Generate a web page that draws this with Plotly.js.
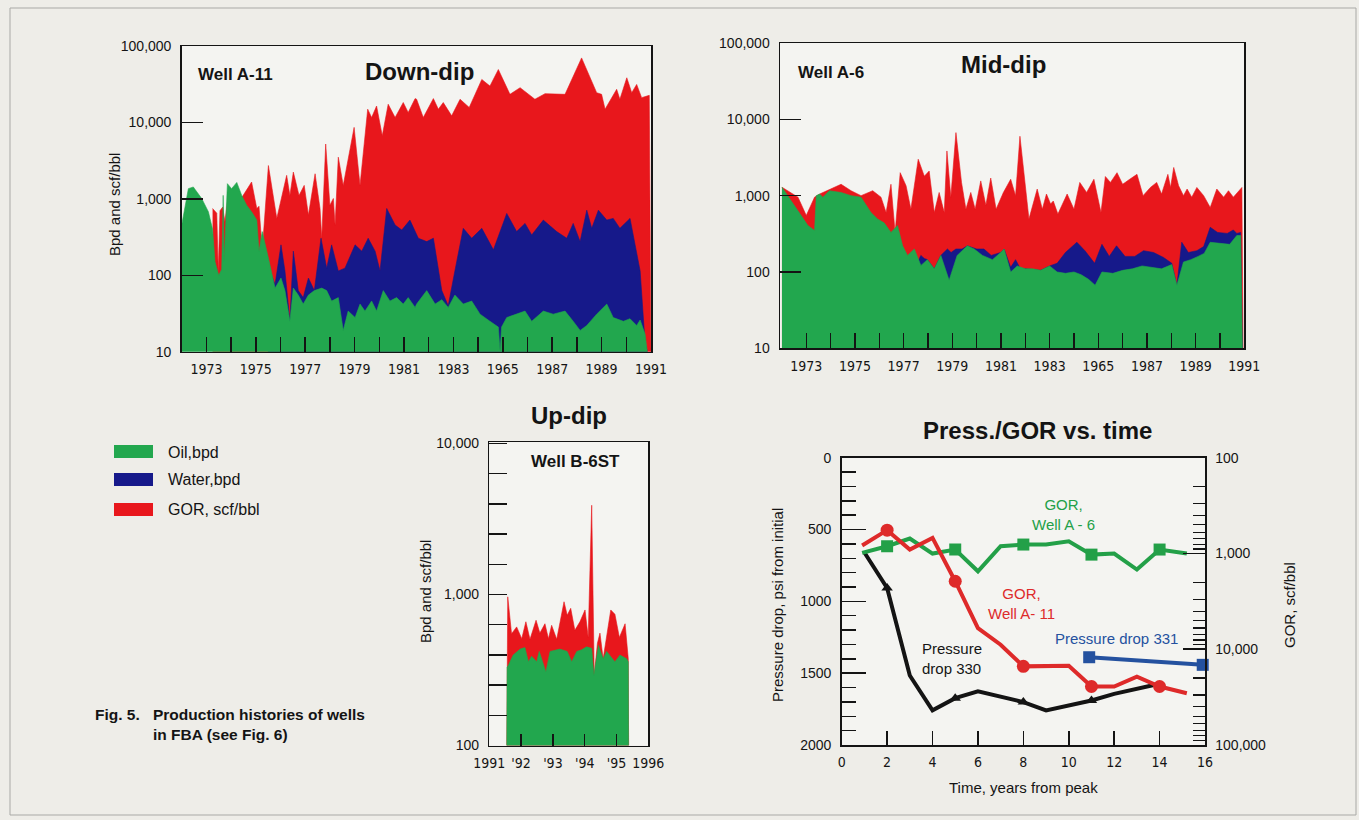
<!DOCTYPE html>
<html>
<head>
<meta charset="utf-8">
<script src="https://cdn.plot.ly/plotly-3.0.1.min.js"></script>
<style>html,body{margin:0;padding:0;background:#eeede8;}#chart{width:1359px;height:820px;}</style>
</head>
<body>
<div id="chart"></div>
<script>
// ---------------- DATA ----------------
// Down-dip, Well A-11
const downGorYears = [1973.25,1973.42,1973.48,1973.55,1973.66,1973.75,1973.85,1974.4,1974.83,1975.04,1975.13,1975.26,1975.51,1975.85,1976.25,1976.38,1976.52,1976.75,1976.96,1977.13,1977.4,1977.6,1977.67,1977.83,1978.0,1978.14,1978.21,1978.34,1978.54,1978.98,1979.22,1979.53,1979.69,1979.89,1980.12,1980.36,1980.64,1980.97,1981.17,1981.45,1981.51,1981.78,1982.19,1982.39,1982.59,1982.93,1983.27,1983.64,1984.15,1984.48,1984.82,1985.29,1985.7,1986.3,1986.71,1987.52,1988.19,1988.8,1989.0,1989.14,1989.61,1989.74,1990.02,1990.22,1990.42,1990.62,1990.93,1991.0];
const downGor = [748,650,110,700,780,500,900,1000,1660,748,800,207,2730,555,2030,1110,2240,1110,1500,613,2130,748,305,5220,826,1010,454,3510,1500,8610,1500,14900,11600,16400,6700,17300,11600,18200,13500,20500,20100,11600,20500,14900,18200,12200,20100,15700,36500,29900,49200,23300,28500,20100,23800,23300,69800,24500,23300,14900,27100,20100,38400,24500,31400,21100,22600,10];
const downWaterYears = [1975.5,1975.57,1975.78,1976.02,1976.18,1976.38,1976.52,1976.72,1976.92,1977.13,1977.37,1977.64,1977.87,1978.07,1978.34,1978.61,1979.02,1979.29,1979.55,1979.83,1980.03,1980.3,1980.64,1980.91,1981.24,1981.58,1981.92,1982.19,1982.53,1982.79,1983.06,1983.4,1983.74,1984.15,1984.62,1985.16,1985.56,1985.9,1986.17,1986.64,1987.18,1987.59,1987.85,1988.13,1988.4,1988.6,1988.87,1989.21,1989.47,1989.74,1990.15,1990.56,1990.76,1990.85];
const downWater = [10,114,76,250,114,25,207,63,51,92,63,305,124,250,114,124,250,207,305,207,114,748,454,391,527,305,276,305,63,40,114,411,305,411,215,644,373,477,337,527,373,305,477,276,711,411,711,527,555,411,555,114,13,10];
const downOilYears = [1972.0,1972.27,1972.47,1972.81,1973.08,1973.25,1973.35,1973.5,1973.62,1973.68,1973.72,1973.85,1974.02,1974.23,1974.43,1974.63,1974.83,1975.04,1975.13,1975.26,1975.51,1975.78,1976.02,1976.18,1976.38,1976.52,1976.72,1976.92,1977.13,1977.37,1977.67,1977.87,1978.07,1978.34,1978.54,1978.74,1979.02,1979.22,1979.42,1979.69,1979.89,1980.16,1980.43,1980.7,1980.97,1981.17,1981.45,1981.51,1981.92,1982.26,1982.53,1982.79,1983.06,1983.4,1983.74,1984.08,1984.48,1984.82,1984.89,1984.95,1985.16,1985.56,1985.9,1986.17,1986.64,1987.04,1987.52,1987.85,1988.13,1988.4,1988.8,1989.21,1989.47,1989.88,1990.15,1990.42,1990.56,1990.76,1990.85];
const downOil = [455,1360,1430,1010,678,400,150,100,120,1110,150,1580,1360,1640,1110,826,678,527,207,373,168,68,92,63,25,68,55,42,55,63,68,63,46,51,19,34,28,42,34,46,34,63,46,51,42,51,38,42,63,42,48,38,55,42,46,31,25,21,10,21,28,31,34,25,34,31,34,25,19,22,31,42,28,25,27,22,26,17,10];

// Mid-dip, Well A-6
const midGorYears = [1972.0,1972.66,1973.0,1973.34,1973.55,1974.43,1974.84,1975.25,1975.73,1976.07,1976.28,1976.48,1976.65,1976.86,1977.1,1977.3,1977.6,1977.85,1978.05,1978.26,1978.46,1978.67,1978.78,1978.94,1979.15,1979.38,1979.56,1979.76,1979.94,1980.17,1980.38,1980.58,1980.8,1981.1,1981.4,1981.6,1981.78,1982.15,1982.49,1982.7,1982.87,1983.04,1983.15,1983.34,1983.72,1984.0,1984.24,1984.52,1984.82,1985.11,1985.29,1985.5,1985.77,1986.0,1986.29,1986.59,1986.84,1987.14,1987.4,1987.6,1987.86,1987.97,1988.1,1988.3,1988.5,1988.65,1988.84,1989.05,1989.33,1989.6,1989.87,1990.15,1990.35,1990.55,1990.9,1990.95];
const midGor = [1290,955,550,955,1050,1410,1160,1000,1160,955,600,1410,330,2000,1350,665,3000,1800,2100,600,1100,600,3850,955,6700,1490,665,1100,665,1560,750,1700,665,1100,1640,1000,6000,495,1220,665,1050,780,850,575,1050,665,1490,1100,1640,600,1780,1490,2000,1410,1640,1900,1000,1280,1490,1050,1900,1280,2340,1350,1000,1220,955,1280,1000,700,1220,955,1160,955,1280,10];
const midWaterYears = [1977.5,1977.71,1977.85,1977.98,1978.26,1978.53,1978.8,1978.95,1979.15,1979.4,1979.62,1980.0,1980.3,1980.6,1980.99,1981.13,1981.4,1981.6,1981.8,1982.0,1982.63,1983.0,1983.31,1983.65,1984.12,1984.45,1984.85,1985.15,1985.45,1985.75,1986.1,1986.5,1986.86,1987.27,1987.68,1988.02,1988.23,1988.43,1988.7,1989.05,1989.33,1989.6,1989.9,1990.3,1990.55,1990.69,1990.85,1990.92];
const midWater = [120,165,150,145,110,165,200,180,200,200,220,200,200,165,180,200,115,145,110,110,105,120,130,180,245,190,130,230,160,220,160,160,190,180,155,130,67,245,180,190,215,385,330,320,355,320,330,10];
const midOilYears = [1972.0,1972.52,1973.07,1973.34,1973.41,1973.55,1973.68,1973.95,1974.43,1974.84,1975.25,1975.66,1975.93,1976.2,1976.48,1976.75,1976.96,1977.16,1977.44,1977.71,1977.98,1978.26,1978.53,1978.87,1979.2,1979.62,1979.9,1980.24,1980.65,1980.99,1981.13,1981.4,1981.67,1982.0,1982.3,1982.63,1983.0,1983.31,1983.65,1984.0,1984.3,1984.6,1984.87,1985.15,1985.6,1986.0,1986.4,1986.8,1987.2,1987.6,1988.02,1988.23,1988.5,1988.8,1989.1,1989.35,1989.6,1990.0,1990.4,1990.69,1990.85,1990.92];
const midOil = [1290,740,405,350,1000,1050,950,1160,1100,1000,955,600,495,440,330,405,220,165,200,122,145,110,165,78,165,220,200,165,145,180,200,100,120,110,110,105,120,100,96,100,92,80,67,100,96,105,110,120,115,110,125,67,135,145,160,175,245,240,230,300,300,10];

// Up-dip, Well B-6ST
const upGorYears = [1991.55,1991.58,1991.7,1991.86,1992.02,1992.15,1992.28,1992.47,1992.59,1992.75,1992.86,1992.96,1993.12,1993.35,1993.45,1993.56,1993.69,1993.85,1994.01,1994.11,1994.22,1994.3,1994.4,1994.48,1994.58,1994.82,1994.95,1995.09,1995.27,1995.37,1995.38];
const upGor = [100,965,550,610,510,660,505,675,555,640,510,625,505,895,730,810,580,660,790,520,3900,290,475,555,375,790,740,520,640,375,100];
const upOilYears = [1991.55,1991.56,1991.6,1991.75,1991.97,1992.12,1992.23,1992.33,1992.49,1992.57,1992.78,1992.91,1993.22,1993.45,1993.59,1993.75,1993.9,1994.06,1994.22,1994.29,1994.43,1994.58,1994.69,1994.82,1994.95,1995.11,1995.32,1995.37,1995.38];
const upOil = [100,330,340,397,435,445,358,390,358,420,307,420,435,420,358,420,430,450,440,292,460,375,420,390,358,397,375,358,100];

// Press./GOR vs. time
const press330Time = [1,2,3,4,5,6,8,9,11,12,14];
const press330 = [660,907,1516,1759,1674,1627,1701,1759,1690,1644,1574];
const press331Time = [10.9,15.9];
const press331 = [1389,1442];
const gorA11Time = [0.9,2,3,4,5,6,7,8,10,11,12,13,14,15.2];
const gorA11 = [827,571,910,687,1950,6010,8970,15100,14900,24500,24500,19300,24500,28800];
const gorA6Time = [0.9,2,3,4,5,6,7,8,9,10,11,12,13,14,15.2];
const gorA6 = [986,840,698,1003,910,1535,840,807,807,745,1028,1003,1473,910,1003];
const markerTimes = [2,5,8,11,14];
const triangleTimes = [2,5,8,11];

// Tick labels
const downYearTicks = [1973,1974,1975,1976,1977,1978,1979,1980,1981,1982,1983,1984,1985,1986,1987,1988,1989,1990,1991];
const downYearLabels = ['1973','','1975','','1977','','1979','','1981','','1983','','1965','','1987','','1989','','1991'];
const logTicks = [10,100,1000,10000,100000];
const logLabels = ['10','100','1,000','10,000','100,000'];
const upYearTicks = [1991,1992,1993,1994,1995,1996];
const upYearLabels = ['1991',"'92","'93","'94","'95",'1996'];
const upLogTicks = [100,158.5,251.2,398.1,631,1000,1585,2512,3981,6310,10000];
const upLogLabels = ['100','','','','','1,000','','','','','10,000'];
const gorTicks = [100,1000,10000,100000];
const gorLabels = ['100','1,000','10,000','100,000'];
const gorMinor = [200,300,400,500,600,700,800,900,2000,3000,4000,5000,6000,7000,8000,9000,20000,30000,40000,50000,60000,70000,80000,90000];

// ---------------- STYLE ----------------
const W = 1359, H = 820;
const px = x => x / W;
const py = y => 1 - y / H;
const GREEN = '#22a74e', BLUE = '#16198a', RED = '#e8171c';
const SANS = 'Liberation Sans, Arial, sans-serif';
const NARROW = 'DejaVu Sans Condensed, Liberation Sans Narrow, Arial Narrow, Liberation Sans, Arial, sans-serif';
const INK = '#141414';

function area(x, y, color, xa, ya) {
  return {x: x, y: y, xaxis: xa, yaxis: ya, type: 'scatter', mode: 'lines', fill: 'tozeroy',
          fillcolor: color, line: {color: color, width: 0.6}, hoverinfo: 'skip', showlegend: false};
}
function pick(times, vals, keys) {
  const xs = [], ys = [];
  times.forEach((t, i) => { if (keys.includes(t)) { xs.push(t); ys.push(vals[i]); } });
  return {x: xs, y: ys};
}

const traces = [
  area(downGorYears, downGor, RED, 'x', 'y'),
  area(downWaterYears, downWater, BLUE, 'x', 'y'),
  area(downOilYears, downOil, GREEN, 'x', 'y'),
  area(midGorYears, midGor, RED, 'x2', 'y2'),
  area(midWaterYears, midWater, BLUE, 'x2', 'y2'),
  area(midOilYears, midOil, GREEN, 'x2', 'y2'),
  area(upGorYears, upGor, RED, 'x3', 'y3'),
  area(upOilYears, upOil, GREEN, 'x3', 'y3')
];

const LGREEN = '#23a048', LRED = '#de2a2a', LBLUE = '#24519f';
traces.push({x: gorA6Time, y: gorA6, xaxis: 'x4', yaxis: 'y5', mode: 'lines', line: {color: LGREEN, width: 4}, showlegend: false});
const a6m = pick(gorA6Time, gorA6, markerTimes);
traces.push({x: a6m.x, y: a6m.y, xaxis: 'x4', yaxis: 'y5', mode: 'markers', marker: {symbol: 'square', size: 12, color: LGREEN}, showlegend: false});
traces.push({x: gorA11Time, y: gorA11, xaxis: 'x4', yaxis: 'y5', mode: 'lines', line: {color: LRED, width: 4}, showlegend: false});
const a11m = pick(gorA11Time, gorA11, markerTimes);
traces.push({x: a11m.x, y: a11m.y, xaxis: 'x4', yaxis: 'y5', mode: 'markers', marker: {symbol: 'circle', size: 13, color: LRED}, showlegend: false});
traces.push({x: press330Time, y: press330, xaxis: 'x4', yaxis: 'y4', mode: 'lines', line: {color: INK, width: 4}, showlegend: false});
const p330m = pick(press330Time, press330, triangleTimes);
traces.push({x: p330m.x, y: p330m.y, xaxis: 'x4', yaxis: 'y4', mode: 'markers', marker: {symbol: 'triangle-up', size: 10, color: INK}, showlegend: false});
traces.push({x: press331Time, y: press331, xaxis: 'x4', yaxis: 'y4', mode: 'lines+markers', line: {color: LBLUE, width: 4}, marker: {symbol: 'square', size: 12, color: LBLUE}, showlegend: false, cliponaxis: false});

const tickY = {family: SANS, size: 14, color: INK};
const tickX = {family: NARROW, size: 14, color: INK};
const frame = {showline: true, linecolor: INK, linewidth: 1.5, mirror: true, showgrid: false, zeroline: false, ticks: 'inside', tickcolor: INK, tickwidth: 1.5};

const layout = {
  width: W, height: H, margin: {l: 0, r: 0, t: 0, b: 0},
  paper_bgcolor: '#eeede8', plot_bgcolor: '#f4f4f1',
  showlegend: false,
  xaxis: Object.assign({}, frame, {domain: [px(181.7), px(651)], range: [1972, 1991], anchor: 'y', tickmode: 'array', tickvals: downYearTicks, ticktext: downYearLabels, ticklen: 15, tickfont: tickX, ticklabelstandoff: 4}),
  yaxis: Object.assign({}, frame, {domain: [py(351.7), py(46)], type: 'log', range: [1, 5], anchor: 'x', tickmode: 'array', tickvals: logTicks, ticktext: logLabels, ticklen: 21, tickfont: tickY, ticklabelstandoff: 6}),
  xaxis2: Object.assign({}, frame, {domain: [px(780), px(1244.3)], range: [1971.92, 1991.0], anchor: 'y2', tickmode: 'array', tickvals: downYearTicks, ticktext: downYearLabels, ticklen: 15, tickfont: tickX, ticklabelstandoff: 4}),
  yaxis2: Object.assign({}, frame, {domain: [py(348.3), py(43)], type: 'log', range: [1, 5], anchor: 'x2', tickmode: 'array', tickvals: logTicks, ticktext: logLabels, ticklen: 21, tickfont: tickY, ticklabelstandoff: 6}),
  xaxis3: Object.assign({}, frame, {domain: [px(489.3), px(648.3)], range: [1991, 1996], anchor: 'y3', tickmode: 'array', tickvals: upYearTicks, ticktext: upYearLabels, ticklen: 12, tickfont: tickX, ticklabelstandoff: 4}),
  yaxis3: Object.assign({}, frame, {domain: [py(745.5), py(442)], type: 'log', range: [2, 4.01], anchor: 'x3', tickmode: 'array', tickvals: upLogTicks, ticktext: upLogLabels, ticklen: 18, tickfont: tickY, ticklabelstandoff: 6}),
  xaxis4: Object.assign({}, frame, {domain: [px(841.7), px(1205)], range: [0, 16], anchor: 'y4', tickmode: 'linear', tick0: 0, dtick: 2, ticklen: 14, tickfont: tickX, ticklabelstandoff: 4}),
  yaxis4: Object.assign({}, frame, {mirror: false, domain: [py(745), py(457.7)], range: [2000, 0], anchor: 'x4', tickmode: 'linear', tick0: 0, dtick: 500, ticklen: 24, tickfont: tickY, ticklabelstandoff: 6,
           minor: {dtick: 100, ticks: 'inside', ticklen: 14, tickcolor: INK, tickwidth: 1.5}}),
  yaxis5: Object.assign({}, frame, {mirror: false, overlaying: 'y4', side: 'right', anchor: 'x4', type: 'log', range: [5, 2], tickmode: 'array', tickvals: gorTicks, ticktext: gorLabels, ticklen: 22, tickfont: tickY, ticklabelstandoff: 6,
           minor: {tickmode: 'array', tickvals: gorMinor, ticks: 'inside', ticklen: 12, tickcolor: INK, tickwidth: 1.2}}),
  shapes: [
    {type: 'rect', xref: 'paper', yref: 'paper', x0: px(10), x1: px(1356), y0: py(815), y1: py(8), line: {color: '#a9a9a6', width: 1}},
    {type: 'rect', xref: 'paper', yref: 'paper', x0: px(114), x1: px(153), y0: py(458), y1: py(445), fillcolor: GREEN, line: {width: 0}},
    {type: 'rect', xref: 'paper', yref: 'paper', x0: px(114), x1: px(153), y0: py(486), y1: py(473), fillcolor: BLUE, line: {width: 0}},
    {type: 'rect', xref: 'paper', yref: 'paper', x0: px(114), x1: px(153), y0: py(516), y1: py(503), fillcolor: RED, line: {width: 0}}
  ],
  annotations: []
};

function note(text, x, y, opts) {
  layout.annotations.push(Object.assign({text: text, xref: 'paper', yref: 'paper', x: px(x), y: py(y), showarrow: false,
    xanchor: 'center', yanchor: 'middle', font: {family: SANS, size: 15, color: INK}}, opts || {}));
}
// Titles
note('<b>Down-dip</b>', 419, 72, {font: {family: SANS, size: 24, color: INK}});
note('<b>Well A-11</b>', 196, 75, {xanchor: 'left', font: {family: SANS, size: 17, color: INK}});
note('<b>Mid-dip</b>', 1003, 65, {font: {family: SANS, size: 24, color: INK}});
note('<b>Well A-6</b>', 796, 73, {xanchor: 'left', font: {family: SANS, size: 17, color: INK}});
note('<b>Up-dip</b>', 569, 415, {font: {family: SANS, size: 24, color: INK}});
note('<b>Well B-6ST</b>', 575, 462, {font: {family: SANS, size: 17, color: INK}});
note('<b>Press./GOR vs. time</b>', 1037, 430, {font: {family: SANS, size: 24, color: INK}});
// Axis titles
note('Bpd and scf/bbl', 114, 205, {textangle: -90, font: {family: SANS, size: 15, color: INK}});
note('Bpd and scf/bbl', 425, 592, {textangle: -90, font: {family: SANS, size: 15, color: INK}});
note('Pressure drop, psi from initial', 777, 605, {textangle: -90, font: {family: SANS, size: 15, color: INK}});
note('GOR, scf/bbl', 1289, 605, {textangle: -90, font: {family: SANS, size: 15, color: INK}});
note('Time, years from peak', 1023, 787, {font: {family: SANS, size: 15, color: INK}});
// Legend
note('Oil,bpd', 166, 452, {xanchor: 'left', font: {family: SANS, size: 16, color: INK}});
note('Water,bpd', 166, 480, {xanchor: 'left', font: {family: SANS, size: 16, color: INK}});
note('GOR, scf/bbl', 166, 509, {xanchor: 'left', font: {family: SANS, size: 16, color: INK}});
// Caption
note('<b>Fig. 5.</b>', 93, 714, {xanchor: 'left', font: {family: SANS, size: 15.5, color: INK}});
note('<b>Production histories of wells<br>in FBA (see Fig. 6)</b>', 150.7, 724, {xanchor: 'left', align: 'left', font: {family: SANS, size: 15.5, color: INK}});
// Labels inside Press./GOR chart
function dnote(text, x, y, color, opts) {
  layout.annotations.push(Object.assign({text: text, xref: 'x4', yref: 'y4', x: x, y: y, showarrow: false,
    xanchor: 'center', yanchor: 'middle', align: 'center', font: {family: SANS, size: 15, color: color}}, opts || {}));
}
dnote('GOR,<br>Well A - 6', 9.77, 394, LGREEN);
dnote('GOR,<br>Well A- 11', 7.93, 1014, LRED);
dnote('Pressure<br>drop 330', 3.45, 1400, INK, {xanchor: 'left', align: 'left'});
dnote('Pressure drop 331', 12.11, 1257, LBLUE);

Plotly.newPlot('chart', traces, layout, {displayModeBar: false, staticPlot: true});
</script>
</body>
</html>
